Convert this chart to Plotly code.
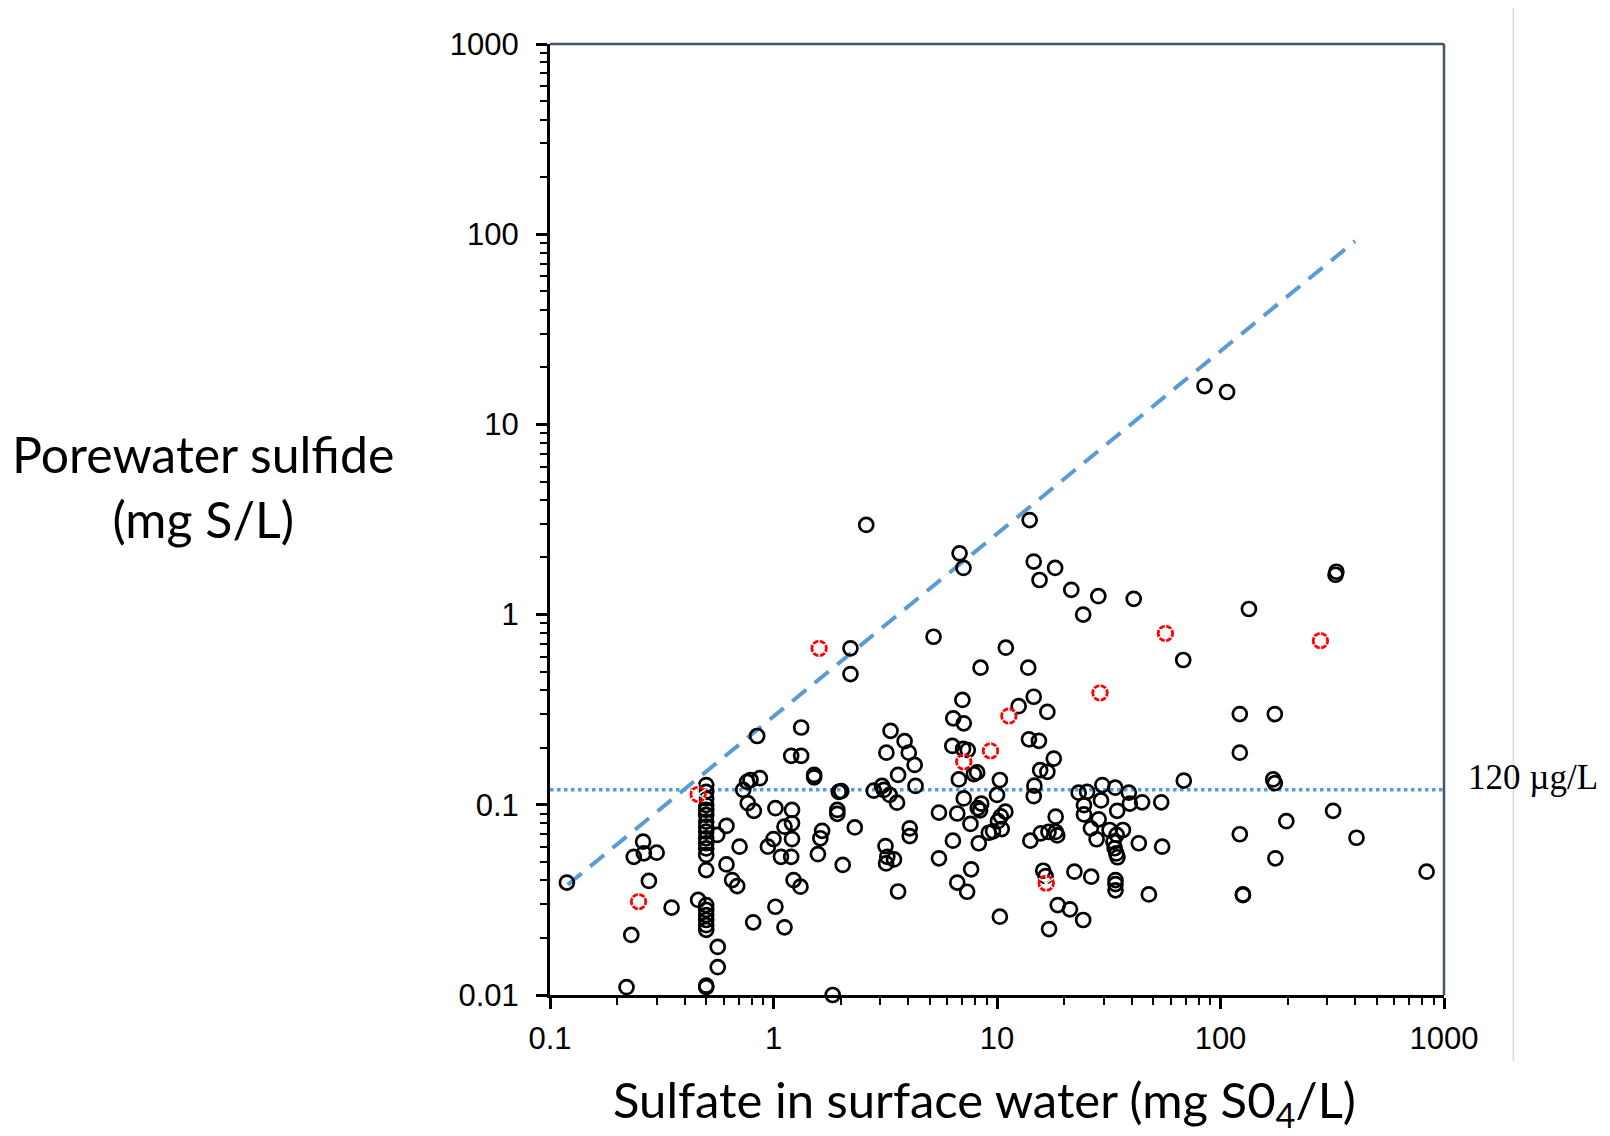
import math
import plotly.graph_objects as go

# Porewater sulfide vs. sulfate in the overlying surface water (log-log)
sulfate = [
    0.119, 0.22, 0.231, 0.237, 0.261, 0.263, 0.30, 0.277, 0.35,
    0.5, 0.5, 0.5, 0.5, 0.5, 0.5, 0.5, 0.5, 0.5, 0.5, 0.5, 0.5, 0.5, 0.5,
    0.46, 0.5, 0.5, 0.5, 0.5, 0.5, 0.5, 0.5, 0.5,
    0.56, 0.616, 0.563, 0.563, 0.616, 0.653, 0.688, 0.705, 0.811, 0.845,
    0.732, 0.762, 0.789, 0.869, 0.767, 0.817,
    1.02, 1.0, 0.944, 1.02, 1.12, 1.12, 1.21, 1.21, 1.21, 1.08, 1.2, 1.23,
    1.32, 1.2, 1.33, 1.33, 1.52, 1.52, 1.65, 1.62, 1.58, 1.96, 2.01, 1.93,
    1.93, 2.31, 2.04, 1.84,
    2.21, 2.21, 5.2, 2.6, 7.08, 6.8,
    3.34, 3.2, 3.61, 3.86, 4.03, 4.28, 4.32, 2.81, 3.06, 3.12, 3.31, 3.57,
    4.07, 4.07, 3.17, 3.23, 3.46, 3.19, 3.61,
    5.5, 6.35, 5.5, 6.37, 7.0, 7.1, 6.31, 7.05, 7.4, 6.75, 7.1, 6.64, 6.64,
    7.35, 7.88, 8.15, 7.61, 8.2, 8.5, 8.4, 8.29, 7.66, 8.44, 9.19, 9.6,
    10.3, 10.0, 10.9, 10.4, 10.1, 10.5, 10.3, 10.95, 13.8, 14.0, 14.6, 18.2,
    15.5, 14.6, 12.5, 16.8, 13.9, 15.4, 17.95, 15.6, 16.8, 14.7, 14.6, 14.1,
    15.7, 17.0, 18.3, 18.6, 18.3, 16.1, 16.5, 17.1, 18.7,
    21.5, 28.4, 24.3, 40.9, 68.1, 21.2, 24.3, 22.2, 26.4, 33.9, 33.9, 33.9,
    47.8, 23.2, 25.3, 29.6, 33.8, 38.9, 24.5, 29.2, 39.3, 44.6, 54.3, 34.5,
    24.5, 28.5, 26.3, 31.9, 36.6, 34.3, 27.9, 33.2, 33.6, 34.2, 34.6, 43.1,
    54.8, 68.5,
    84.8, 107, 134, 330, 327, 122, 175, 122, 172, 175, 122, 319, 197, 406,
    176, 126, 126, 836,
]
sulfide = [
    0.039, 0.011, 0.0207, 0.0533, 0.064, 0.0556, 0.056, 0.0398, 0.0288,
    0.127, 0.117, 0.108, 0.0997, 0.094, 0.0885, 0.0815, 0.0767, 0.0722,
    0.0667, 0.0628, 0.059, 0.0545, 0.0454,
    0.0316, 0.0297, 0.028, 0.0263, 0.0248, 0.0233, 0.022, 0.011, 0.0112,
    0.0694, 0.0774, 0.0179, 0.014, 0.0486, 0.0402, 0.0374, 0.0602, 0.0241,
    0.23, 0.1197, 0.132, 0.135, 0.138, 0.102, 0.093,
    0.096, 0.066, 0.0602, 0.0291, 0.0227, 0.0767, 0.094, 0.08, 0.066, 0.0533,
    0.0533, 0.0402, 0.0371, 0.181, 0.181, 0.255, 0.1435, 0.1395, 0.073,
    0.0667, 0.055, 0.117, 0.118, 0.094, 0.0896, 0.076, 0.0483, 0.01,
    0.665, 0.487, 0.765, 2.96, 1.76, 2.1,
    0.245, 0.188, 0.1435, 0.216, 0.188, 0.162, 0.1256, 0.1186, 0.1256,
    0.1197, 0.1127, 0.1026, 0.0752, 0.0685, 0.0607, 0.0533, 0.0516, 0.0492,
    0.035,
    0.091, 0.0648, 0.0523, 0.285, 0.356, 0.268, 0.204, 0.197, 0.194, 0.136,
    0.108, 0.09, 0.039, 0.0349, 0.145, 0.148, 0.0793, 0.096, 0.1015, 0.0935,
    0.0628, 0.0458, 0.526, 0.0713, 0.0725,
    0.135, 0.1127, 0.092, 0.087, 0.082, 0.0745, 0.0258, 0.67, 0.526, 3.14,
    1.9, 1.76, 1.52, 0.37, 0.33, 0.308, 0.221, 0.217, 0.175, 0.152, 0.149,
    0.126, 0.111, 0.0648, 0.0708, 0.072, 0.072, 0.069, 0.0866, 0.045,
    0.0422, 0.0222, 0.0297,
    1.35, 1.25, 1.0, 1.21, 0.577, 0.0282, 0.0248, 0.0445, 0.0419, 0.0402,
    0.0383, 0.0355, 0.0338, 0.1158, 0.117, 0.127, 0.123, 0.116, 0.0995,
    0.1055, 0.1015, 0.103, 0.103, 0.093, 0.089, 0.0839, 0.0752, 0.0737,
    0.0737, 0.0694, 0.0659, 0.064, 0.0591, 0.0555, 0.053, 0.0628, 0.0602,
    0.134,
    15.9, 14.8, 1.07, 1.68, 1.62, 0.3, 0.3, 0.188, 0.136, 0.13, 0.07, 0.093,
    0.082, 0.0671, 0.0523, 0.0338, 0.0335, 0.0445,
]

# Samples drawn with red dashed circles
sulfate_flagged = [0.249, 0.46, 1.6, 7.1, 9.35, 11.3, 16.6, 28.9, 56.7, 280]
sulfide_flagged = [0.031, 0.1135, 0.665, 0.168, 0.192, 0.293, 0.0387, 0.388,
                   0.797, 0.729]

# Upper-bound line and the 120 µg/L sulfide level
bound_x = [0.12, 400]
bound_y = [0.038, 92]
threshold = 0.12
threshold_x = [0.1, 1000]
threshold_label = "120 \u00b5g/L"

x_ticks = [0.1, 1, 10, 100, 1000]
x_tick_text = ["0.1", "1", "10", "100", "1000"]
y_ticks = [0.01, 0.1, 1, 10, 100, 1000]
y_tick_text = ["0.01", "0.1", "1", "10", "100", "1000"]

x_minor = [m * 10.0 ** e for e in range(-1, 3) for m in range(2, 10)]
y_minor = [m * 10.0 ** e for e in range(-2, 3) for m in range(2, 10)]

BLUE = "#5B9BD5"
TICK_FONT = dict(family="Liberation Sans, Arial, sans-serif", size=31, color="black")
TITLE_FAMILY = "Lato, sans-serif"

fig = go.Figure()

fig.add_trace(go.Scatter(
    x=threshold_x, y=[threshold, threshold], mode="lines",
    line=dict(color=BLUE, width=3.5, dash="dot"), hoverinfo="skip",
))
fig.add_trace(go.Scatter(
    x=bound_x, y=bound_y, mode="lines",
    line=dict(color=BLUE, width=4, dash="18px,11px"), hoverinfo="skip",
))
fig.add_trace(go.Scatter(
    x=sulfate, y=sulfide, mode="markers", cliponaxis=False,
    marker=dict(symbol="circle-open", size=14, color="black",
                line=dict(width=2.7, color="black")),
))
fig.add_trace(go.Scatter(
    x=sulfate_flagged, y=sulfide_flagged, mode="markers", cliponaxis=False,
    marker=dict(symbol="circle-open", size=14.5, color="#FF0000",
                line=dict(width=2.8, color="#FF0000")),
))
# thin white spokes break the red rings into dashes
for sym in ("y-up-open", "y-down-open"):
    fig.add_trace(go.Scatter(
        x=sulfate_flagged, y=sulfide_flagged, mode="markers", cliponaxis=False,
        marker=dict(symbol=sym, size=12.5, color="white",
                    line=dict(width=1.4, color="white")),
        hoverinfo="skip",
    ))

axis_common = dict(
    type="log", showgrid=False, zeroline=False,
    showline=True, linecolor="black", linewidth=3,
    ticks="outside", ticklen=11, tickwidth=2.5, tickcolor="black",
    tickfont=TICK_FONT,
)
fig.update_xaxes(
    range=[-1, 3], tickvals=x_ticks, ticktext=x_tick_text,
    ticklabelstandoff=3,
    minor=dict(tickvals=x_minor, ticks="outside", ticklen=7, tickwidth=2,
               tickcolor="black", showgrid=False),
    **axis_common,
)
fig.update_yaxes(
    range=[-2, 3], tickvals=y_ticks, ticktext=y_tick_text,
    ticklabelstandoff=11,
    minor=dict(tickvals=y_minor, ticks="outside", ticklen=7, tickwidth=2,
               tickcolor="black", showgrid=False),
    **axis_common,
)

FRAME = "#44546A"
fig.add_shape(type="line", xref="paper", yref="paper", x0=0, x1=1, y0=1, y1=1,
              line=dict(color=FRAME, width=2.5))
fig.add_shape(type="line", xref="paper", yref="paper", x0=1, x1=1, y0=0, y1=1,
              line=dict(color=FRAME, width=2.5))
fig.add_shape(type="line", xref="paper", yref="paper", x0=1.0777, x1=1.0777,
              y0=-0.0694, y1=1.0379, line=dict(color="#D9D9D9", width=1.5))

fig.add_annotation(
    xref="paper", yref="y", x=1.0245, y=math.log10(threshold),
    xanchor="left", yanchor="middle", yshift=12, showarrow=False,
    text=threshold_label,
    font=dict(family="Liberation Serif, Times New Roman, serif", size=35,
              color="black"),
)
fig.add_annotation(
    xref="paper", yref="paper", x=-0.3887, y=0.5347,
    xanchor="center", yanchor="middle", showarrow=False, align="center",
    text="Porewater sulfide<br>(mg S/L)",
    font=dict(family=TITLE_FAMILY, size=50, color="black"),
)
fig.add_annotation(
    xref="paper", yref="paper", x=0.486, y=-0.1135,
    xanchor="center", yanchor="middle", showarrow=False,
    text="Sulfate in surface water (mg S0<sub>4</sub>/L)",
    font=dict(family=TITLE_FAMILY, size=49, color="black"),
)

fig.update_layout(
    width=1610, height=1136,
    margin=dict(l=550, r=166, t=44, b=141),
    paper_bgcolor="white", plot_bgcolor="white",
    showlegend=False,
)

fig.write_html("out.html")
